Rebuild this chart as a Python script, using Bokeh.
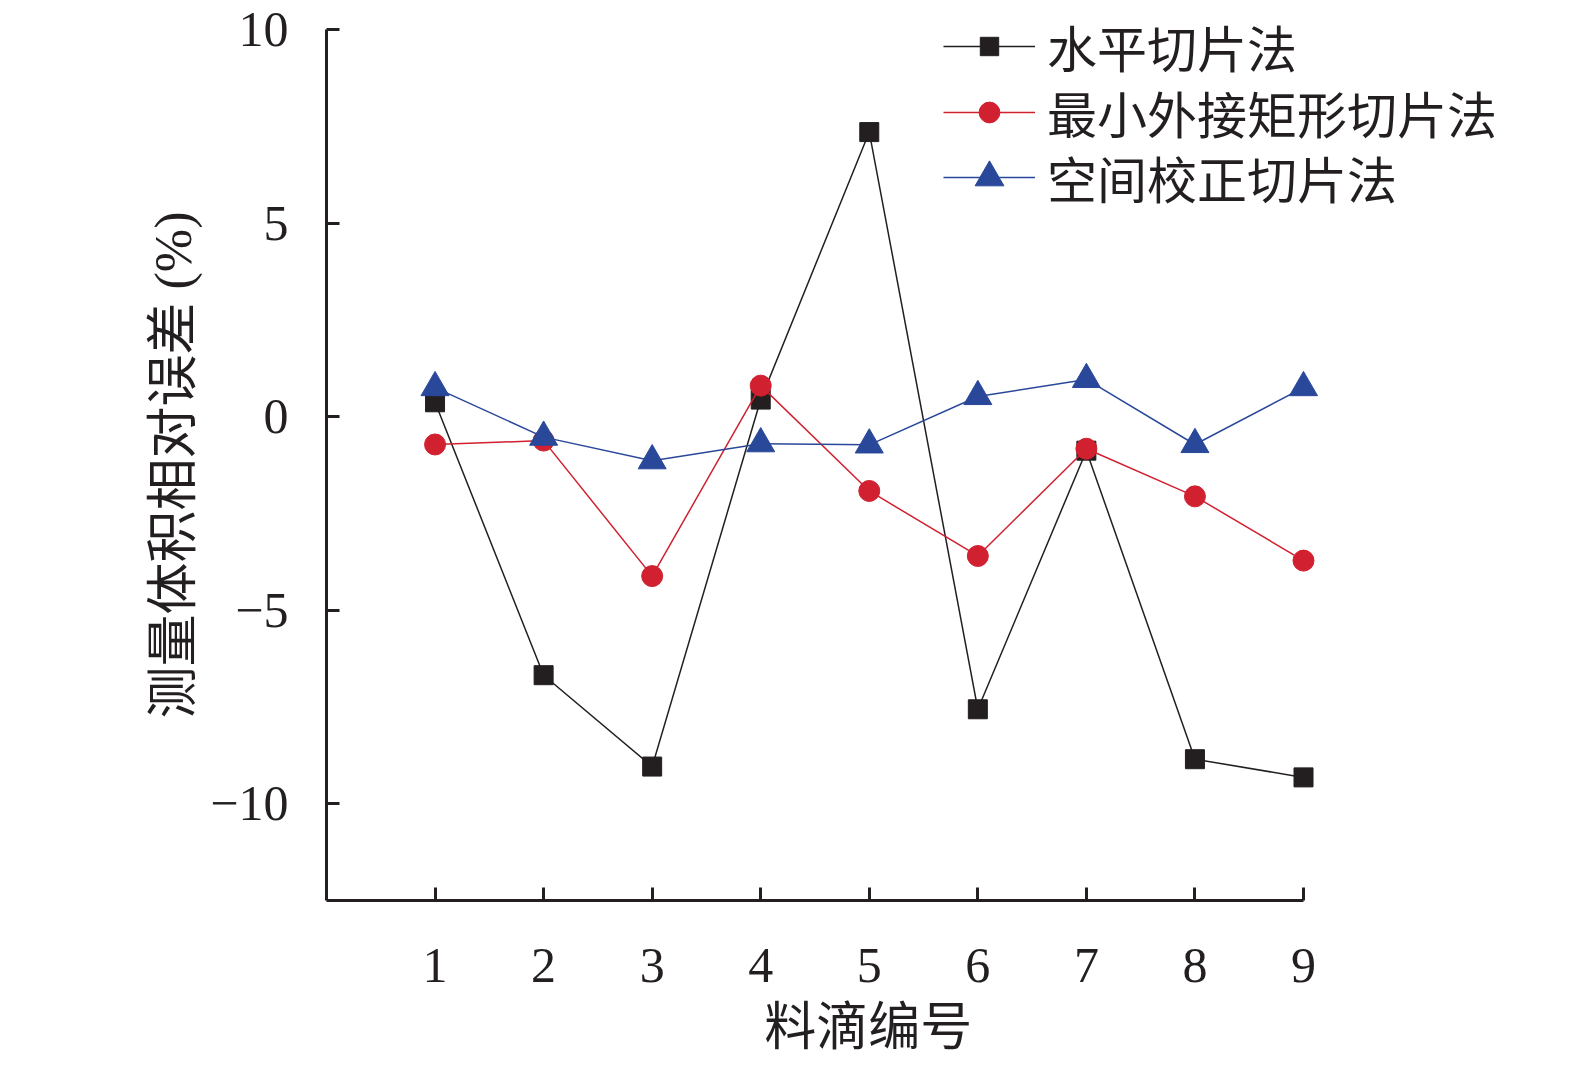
from bokeh.plotting import figure
from bokeh.models import Range1d, FixedTicker, Legend, LegendItem, Label
from bokeh.embed import file_html
from bokeh.resources import INLINE

# ---- data ----
drops = [1, 2, 3, 4, 5, 6, 7, 8, 9]
horizontal = [0.37, -6.68, -9.04, 0.44, 7.35, -7.56, -0.88, -8.85, -9.32]
min_rect = [-0.72, -0.62, -4.12, 0.80, -1.92, -3.60, -0.83, -2.06, -3.72]
spatial = [0.75, -0.53, -1.14, -0.70, -0.73, 0.52, 0.96, -0.72, 0.75]
series_names = ["水平切片法", "最小外接矩形切片法", "空间校正切片法"]
y_ticks = [-10, -5, 0, 5, 10]
y_tick_labels = ["\u221210", "\u22125", "0", "5", "10"]
x_label = "料滴编号"
y_label = "测量体积相对误差 (%)"
x_bounds = (0, 9)
y_bounds = (-12.5, 10)

CJK = "Noto Sans CJK SC"
MIX = "Liberation Serif, Noto Sans CJK SC"
NUM = "Liberation Serif"
DARK = "#231f20"
RED = "#d1202f"
BLUE = "#2a489a"

# ---- layout (pixels) ----
W, H = 1567, 1059
AX_L, AX_R, AX_T, AX_B = 326, 1303, 29, 900
kx = (AX_R - AX_L) / (x_bounds[1] - x_bounds[0])
ky = (AX_B - AX_T) / (y_bounds[1] - y_bounds[0])
x_start = x_bounds[0] - AX_L / kx
x_end = x_bounds[1] + (W - AX_R) / kx
y_end = y_bounds[1] + AX_T / ky
y_start = y_bounds[0] - (H - AX_B) / ky

p = figure(width=W, height=H, output_backend="svg", toolbar_location=None,
           x_range=Range1d(x_start, x_end), y_range=Range1d(y_start, y_end),
           min_border=0)
p.outline_line_color = None
p.xgrid.visible = False
p.ygrid.visible = False
p.background_fill_color = "white"
p.border_fill_color = "white"

for ax in (p.xaxis[0], p.yaxis[0]):
    ax.axis_line_width = 3
    ax.axis_line_color = DARK
    ax.major_tick_line_width = 3
    ax.major_tick_line_color = DARK
    ax.major_tick_in = 13
    ax.major_tick_out = 0
    ax.minor_tick_line_color = None
    ax.major_label_text_font = NUM
    ax.major_label_text_font_size = "50px"
    ax.major_label_text_color = DARK

p.xaxis.fixed_location = y_bounds[0]
p.xaxis.bounds = x_bounds
p.xaxis.ticker = FixedTicker(ticks=drops)
p.xaxis.major_label_standoff = 48

p.yaxis.fixed_location = x_bounds[0]
p.yaxis.bounds = y_bounds
p.yaxis.ticker = FixedTicker(ticks=y_ticks)
p.yaxis.major_label_overrides = {t: s for t, s in zip(y_ticks, y_tick_labels)}
p.yaxis.major_label_standoff = 38

p.yaxis.axis_label = y_label
p.yaxis.axis_label_text_font = MIX
p.yaxis.axis_label_text_font_size = "52px"
p.yaxis.axis_label_text_font_style = "normal"
p.yaxis.axis_label_text_color = DARK
p.yaxis.axis_label_standoff = 5

# x-axis title, placed below the axis (data coordinates)
xl = Label(x=4.99, y=-15.65, text=x_label, text_font=CJK, text_font_size="52px",
           text_color=DARK, text_align="center", text_baseline="middle")
p.add_layout(xl)

specs = [
    (horizontal, DARK, "square", 19, series_names[0], 977, 46),
    (min_rect, RED, "circle", 21, series_names[1], 911, 52),
    (spatial, BLUE, "triangle", 28, series_names[2], 846, 72),
]
for ys, col, marker, size, name, vy, gh in specs:
    ln = p.line(drops, ys, line_color=col, line_width=1.5)
    sc = p.scatter(drops, ys, marker=marker, size=size, fill_color=col, line_color=col)
    legend = Legend(items=[LegendItem(label=name, renderers=[ln, sc])],
                    location=(943, vy), orientation="vertical",
                    border_line_color=None, background_fill_alpha=0,
                    padding=0, margin=0, spacing=0,
                    glyph_width=92, glyph_height=gh, label_standoff=12,
                    label_text_font=MIX, label_text_font_size="50px",
                    label_text_color=DARK, label_height=46)
    p.add_layout(legend, "center")

open("out.html", "w").write(file_html(p, INLINE))
